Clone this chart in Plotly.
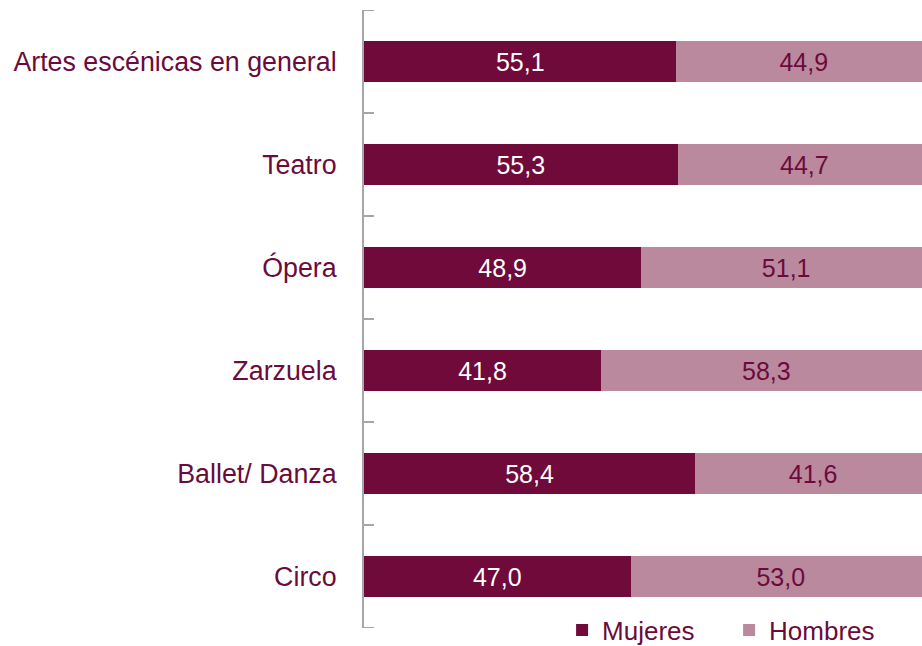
import plotly.graph_objects as go

categorias = ["Artes escénicas en general", "Teatro", "Ópera", "Zarzuela", "Ballet/ Danza", "Circo"]
mujeres = [55.1, 55.3, 48.9, 41.8, 58.4, 47.0]
hombres = [44.9, 44.7, 51.1, 58.3, 41.6, 53.0]

COLOR_MUJERES = "#6f0a3a"
COLOR_HOMBRES = "#bb899d"
COLOR_TEXTO = "#6b0b3c"
COLOR_EJE = "#a6a6a6"
FONT = "Liberation Sans, Arial, sans-serif"

fig = go.Figure()

fig.add_trace(go.Bar(
    y=categorias, x=mujeres, name="Mujeres", orientation="h",
    marker=dict(color=COLOR_MUJERES, line=dict(width=0)),
    texttemplate="%{x:.1f}", textposition="inside", insidetextanchor="middle",
    textfont=dict(color="white", size=25, family=FONT),
))
fig.add_trace(go.Bar(
    y=categorias, x=hombres, name="Hombres", orientation="h",
    marker=dict(color=COLOR_HOMBRES, line=dict(width=0)),
    texttemplate="%{x:.1f}", textposition="inside", insidetextanchor="middle",
    textfont=dict(color=COLOR_TEXTO, size=25, family=FONT),
))

# plotly skips the outermost boundary ticks, so draw those two by hand
for yb in (-0.5, len(categorias) - 0.5):
    fig.add_shape(type="line", xref="paper", yref="y", x0=0, x1=0.018, y0=yb, y1=yb,
                  line=dict(color=COLOR_EJE, width=2))

fig.update_layout(
    barmode="stack",
    bargap=0.61,
    width=922, height=646,
    margin=dict(l=364, r=0, t=10, b=18, autoexpand=False),
    paper_bgcolor="white", plot_bgcolor="white",
    separators=",.",
    font=dict(family=FONT, color=COLOR_TEXTO, size=25),
    uniformtext=dict(minsize=20, mode="show"),
    legend=dict(
        orientation="h", x=0.355, xanchor="left", y=-0.0035, yanchor="middle",
        font=dict(size=26, color=COLOR_TEXTO), traceorder="normal",
        entrywidth=122, entrywidthmode="pixels",
        bgcolor="rgba(0,0,0,0)",
    ),
    xaxis=dict(range=[0, 98.4], showgrid=False, zeroline=False, showticklabels=False,
               showline=False, ticks=""),
    yaxis=dict(range=[5.5, -0.5], showgrid=False, zeroline=False,
               showline=True, linecolor=COLOR_EJE, linewidth=2,
               ticks="inside", tickson="boundaries", ticklen=10, tickcolor=COLOR_EJE,
               tickwidth=2, ticklabelstandoff=20,
               tickfont=dict(size=26.8, color=COLOR_TEXTO)),
)

# drop the default body margin so the figure sits at the page corner
fig.write_html("out.html", config={"displayModeBar": False},
               post_script="document.body.style.margin='0px';")
